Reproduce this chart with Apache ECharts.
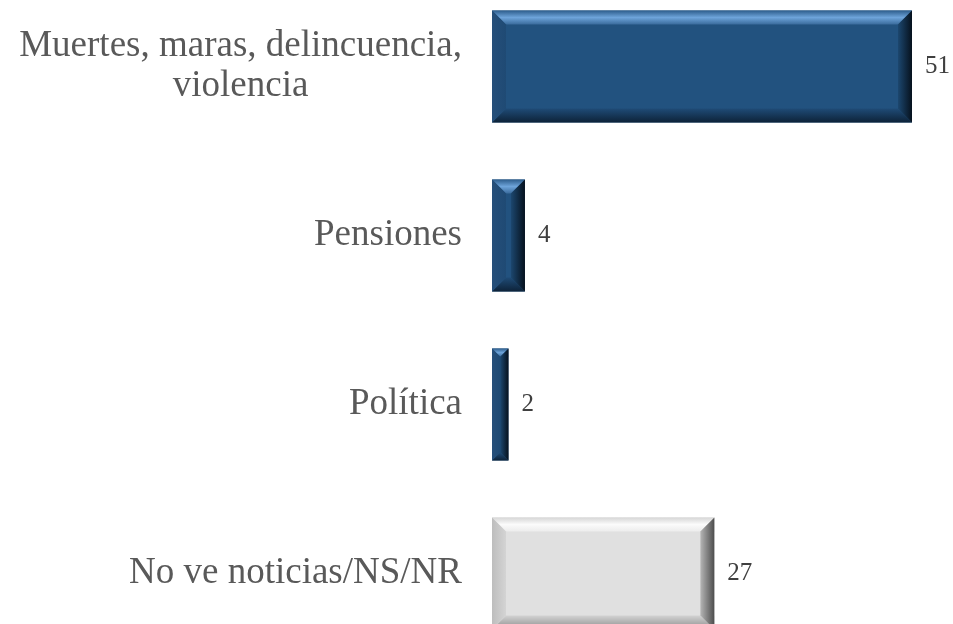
<!DOCTYPE html>
<html>
<head>
<meta charset="utf-8">
<script src="https://cdn.jsdelivr.net/npm/echarts@6/dist/echarts.min.js"></script>
<style>
  html, body { margin: 0; padding: 0; background: #fff; }
  #view { width: 953px; height: 624px; }
</style>
</head>
<body>
<div id="view"></div>
<script>
// datos del gráfico
var categories = ['Muertes, maras, delincuencia,\nviolencia', 'Pensiones', 'Política', 'No ve noticias/NS/NR'];
var values = [51, 4, 2, 27];
var colorKeys = ['blue', 'blue', 'blue', 'gray'];

var BAR_W = 112;
var BEVEL = 14;

// colores del bisel
var palettes = {
    blue: {
        main: '#22527f',
        top: ['#2d5d8c', '#6ea4da', '#3a6b9c'],
        bottom: ['#1f4b76', '#0d2238'],
        left: ['#264f7a', '#1f4a74'],
        right: ['#1c476f', '#06111d']
    },
    gray: {
        main: '#e0e0e0',
        top: ['#d6d6d6', '#fbfbfb', '#ececec'],
        bottom: ['#d2d2d2', '#8c8c8c'],
        left: ['#bdbdbd', '#d4d4d4'],
        right: ['#b5b5b5', '#4d4d4d']
    }
};

function grad(horizontal, stops) {
    var cs = stops.map(function (c, i) {
        return { offset: i / (stops.length - 1), color: c };
    });
    return new echarts.graphic.LinearGradient(0, 0, horizontal ? 1 : 0, horizontal ? 0 : 1, cs);
}

var myChart = echarts.init(document.getElementById('view'));
var option = {
    backgroundColor: '#fff',
    animation: false,
    grid: { left: 492, right: 41, top: -18, bottom: -34, outerBoundsMode: 'none', containLabel: false },
    xAxis: { type: 'value', min: 0, max: 51, show: false },
    yAxis: {
        type: 'category',
        inverse: true,
        data: categories,
        axisLine: { show: false },
        axisTick: { show: false },
        splitLine: { show: false },
        axisLabel: {
            margin: 30,
            align: 'right',
            formatter: function (v) {
                return v.split('\n').map(function (s) { return '{c|' + s + '}'; }).join('\n');
            },
            rich: {
                c: {
                    align: 'center',
                    fontFamily: 'Liberation Serif',
                    fontSize: 37,
                    lineHeight: 40,
                    color: '#595959'
                }
            }
        }
    },
    series: [{
        type: 'bar',
        barWidth: BAR_W,
        data: values.map(function (v, i) {
            return { value: v, itemStyle: { color: palettes[colorKeys[i]].main } };
        }),
        label: {
            show: true,
            position: 'right',
            distance: 13,
            fontFamily: 'Liberation Serif',
            fontSize: 25,
            color: '#3f3f3f'
        },
        z: 2
    }, {
        type: 'custom',
        z: 3,
        silent: true,
        data: values.map(function (v, i) { return [v, i]; }),
        encode: { x: 0, y: 1 },
        renderItem: function (params, api) {
            var idx = api.value(1);
            var p0 = api.coord([0, idx]);
            var p1 = api.coord([api.value(0), idx]);
            var x0 = p0[0], x1 = p1[0];
            var y0 = p0[1] - BAR_W / 2, y1 = p0[1] + BAR_W / 2;
            var b = Math.min(BEVEL, (x1 - x0) / 2, (y1 - y0) / 2);
            var pal = palettes[colorKeys[params.dataIndex]];
            return {
                type: 'group',
                children: [{
                    type: 'polygon',
                    shape: { points: [[x0, y0], [x1, y0], [x1 - b, y0 + b], [x0 + b, y0 + b]] },
                    style: { fill: grad(false, pal.top) }
                }, {
                    type: 'polygon',
                    shape: { points: [[x0 + b, y1 - b], [x1 - b, y1 - b], [x1, y1], [x0, y1]] },
                    style: { fill: grad(false, pal.bottom) }
                }, {
                    type: 'polygon',
                    shape: { points: [[x0, y0], [x0 + b, y0 + b], [x0 + b, y1 - b], [x0, y1]] },
                    style: { fill: grad(true, pal.left) }
                }, {
                    type: 'polygon',
                    shape: { points: [[x1 - b, y0 + b], [x1, y0], [x1, y1], [x1 - b, y1 - b]] },
                    style: { fill: grad(true, pal.right) }
                }]
            };
        }
    }]
};
myChart.setOption(option);
</script>
</body>
</html>
